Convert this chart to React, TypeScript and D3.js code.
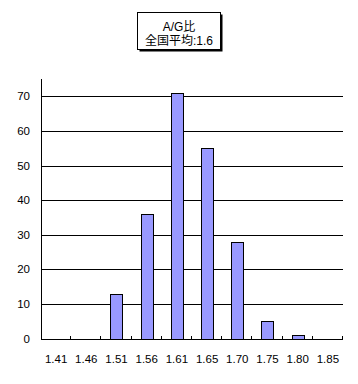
import React from "react";
import * as d3 from "d3";

const categories = ["1.41", "1.46", "1.51", "1.56", "1.61", "1.65", "1.70", "1.75", "1.80", "1.85"];
const counts = [0, 0, 13, 36, 71, 55, 28, 5, 1, 0];
const yTicks = [0, 10, 20, 30, 40, 50, 60, 70];
const titleLines = ["A/G比", "全国平均:1.6"];

const W = 358;
const H = 384;
const left = 41;
const right = 343;
const top = 79;
const bottom = 338.5;
const TITLE_FONT = "'Liberation Sans', 'Noto Sans CJK JP', sans-serif";
const NUM_FONT = "'Liberation Sans', Arial, sans-serif";

export default function App() {
  const x = d3.scaleBand<string>().domain(categories).range([left, right]).paddingInner(0.6).paddingOuter(0.3);
  const xCat = d3.scaleBand<string>().domain(categories).range([left, right]);
  const y = d3.scaleLinear().domain([0, 75]).range([bottom, top]);
  const boundaries = categories.map((c) => xCat(c)! + xCat.bandwidth());

  return (
    <svg width={W} height={H} style={{ position: "absolute", left: 0, top: 0, background: "#fff" }}>
      <rect x={0} y={0} width={W} height={H} fill="#fff" />
      {/* title box */}
      <rect x={139.5} y={14.5} width={83} height={37} fill="#000" />
      <rect x={137.5} y={12.5} width={83} height={37} fill="#fff" stroke="#000" strokeWidth={1} />
      {titleLines.map((t, i) => (
        <text key={i} x={179} y={31 + i * 13.8} textAnchor="middle" fontFamily={TITLE_FONT} fontSize={12} fill="#000">
          {t}
        </text>
      ))}
      {/* gridlines */}
      {yTicks.filter((t) => t > 0).map((t) => (
        <line key={t} x1={left} x2={right} y1={Math.round(y(t)) + 0.5} y2={Math.round(y(t)) + 0.5} stroke="#000" strokeWidth={1} />
      ))}
      {/* bars */}
      {categories.map((c, i) =>
        counts[i] > 0 ? (
          <rect
            key={c}
            x={Math.round(x(c)!) + 0.5}
            y={Math.round(y(counts[i])) + 0.5}
            width={Math.round(x.bandwidth())}
            height={Math.round(bottom) - Math.round(y(counts[i]))}
            fill="#9999FF"
            stroke="#000"
            strokeWidth={1}
          />
        ) : null
      )}
      {/* axes */}
      <line x1={left + 0.5} x2={left + 0.5} y1={top} y2={Math.round(bottom) + 0.5} stroke="#000" />
      <line x1={left} x2={right} y1={Math.round(bottom) + 0.5} y2={Math.round(bottom) + 0.5} stroke="#000" />
      {boundaries.map((b, i) => (
        <line key={i} x1={Math.round(b) - 0.5} x2={Math.round(b) - 0.5} y1={Math.round(bottom) - 3} y2={Math.round(bottom)} stroke="#000" />
      ))}
      {/* y labels */}
      {yTicks.map((t) => (
        <text key={t} x={30} y={y(t) + 4} textAnchor="end" fontFamily={NUM_FONT} fontSize={11.5} fill="#000">
          {t}
        </text>
      ))}
      {/* x labels */}
      {categories.map((c) => (
        <text key={c} x={xCat(c)! + xCat.bandwidth() / 2} y={363} textAnchor="middle" fontFamily={NUM_FONT} fontSize={11.5} fill="#000">
          {c}
        </text>
      ))}
    </svg>
  );
}
